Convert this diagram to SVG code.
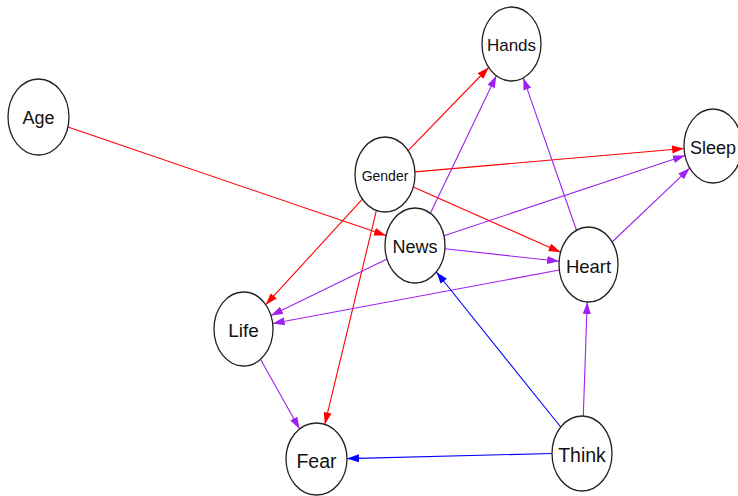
<svg xmlns="http://www.w3.org/2000/svg" width="738" height="496" viewBox="0 0 738 496">
<style>
.node ellipse{fill:#fff;stroke:#222;stroke-width:1.3}
.node text{font-family:"Liberation Sans",Arial,sans-serif;fill:#111;text-anchor:middle;dominant-baseline:central}
.e{fill:none;stroke-width:1.1}
.r{stroke:#ff0000;marker-end:url(#ar)}
.p{stroke:#a020f0;marker-end:url(#ap)}
.b{stroke:#0000ff;marker-end:url(#ab)}
</style>
<defs>
<marker id="ar" markerUnits="userSpaceOnUse" markerWidth="12" markerHeight="8" refX="12" refY="4" orient="auto"><path d="M0,0 L12,4 L0,8 z" fill="#ff0000"/></marker>
<marker id="ap" markerUnits="userSpaceOnUse" markerWidth="12" markerHeight="8" refX="12" refY="4" orient="auto"><path d="M0,0 L12,4 L0,8 z" fill="#a020f0"/></marker>
<marker id="ab" markerUnits="userSpaceOnUse" markerWidth="12" markerHeight="8" refX="12" refY="4" orient="auto"><path d="M0,0 L12,4 L0,8 z" fill="#0000ff"/></marker>
</defs>
<rect width="738" height="496" fill="#fff"/>
<g id="connectors">
<line class="e r" x1="67.9" y1="127" x2="386" y2="235.6"/>
<line class="e r" x1="408.1" y1="150.6" x2="488.7" y2="67.5"/>
<line class="e r" x1="414.9" y1="171.9" x2="684.1" y2="148.5"/>
<line class="e r" x1="413.3" y1="187" x2="560.6" y2="252.2"/>
<line class="e r" x1="362.4" y1="199.2" x2="265.7" y2="304.7"/>
<line class="e r" x1="376.4" y1="210.4" x2="324.8" y2="424.4"/>
<line class="e p" x1="430.4" y1="213.3" x2="496.3" y2="75.7"/>
<line class="e p" x1="444" y1="235.8" x2="685" y2="155.4"/>
<line class="e p" x1="444.9" y1="248.8" x2="559.1" y2="261.3"/>
<line class="e p" x1="387" y1="259.1" x2="271" y2="315.6"/>
<line class="e p" x1="576.5" y1="230.2" x2="523.3" y2="77.9"/>
<line class="e p" x1="612.1" y1="242" x2="689.8" y2="168.1"/>
<line class="e p" x1="559.3" y1="270" x2="272.7" y2="323.5"/>
<line class="e p" x1="260.5" y1="359.3" x2="299.6" y2="429"/>
<line class="e p" x1="583.3" y1="416" x2="587.2" y2="302"/>
<line class="e b" x1="560.7" y1="427" x2="436.3" y2="272"/>
<line class="e b" x1="552" y1="453.5" x2="347" y2="458.6"/>
</g>
<g id="node-age" class="node"><ellipse cx="38.5" cy="117" rx="30.5" ry="38"/><text x="38.5" y="118" font-size="18">Age</text></g>
<g id="node-hands" class="node"><ellipse cx="511.5" cy="44" rx="29.5" ry="37"/><text x="511.5" y="45" font-size="17">Hands</text></g>
<g id="node-gender" class="node"><ellipse cx="385" cy="174.5" rx="30" ry="37.5"/><text x="385" y="176" font-size="14">Gender</text></g>
<g id="node-sleep" class="node"><ellipse cx="713" cy="146" rx="29" ry="37"/><text x="713" y="148" font-size="18">Sleep</text></g>
<g id="node-news" class="node"><ellipse cx="415" cy="245.5" rx="30" ry="37.5"/><text x="415" y="247" font-size="18">News</text></g>
<g id="node-heart" class="node"><ellipse cx="588.5" cy="264.5" rx="29.5" ry="37.5"/><text x="588.5" y="266" font-size="18.5">Heart</text></g>
<g id="node-life" class="node"><ellipse cx="243.5" cy="329" rx="29.5" ry="37"/><text x="243.5" y="330" font-size="19">Life</text></g>
<g id="node-fear" class="node"><ellipse cx="316.5" cy="459" rx="30.5" ry="36"/><text x="316.5" y="461" font-size="19.5">Fear</text></g>
<g id="node-think" class="node"><ellipse cx="582" cy="453.5" rx="30" ry="37.5"/><text x="582" y="455" font-size="19.5">Think</text></g>
</svg>
